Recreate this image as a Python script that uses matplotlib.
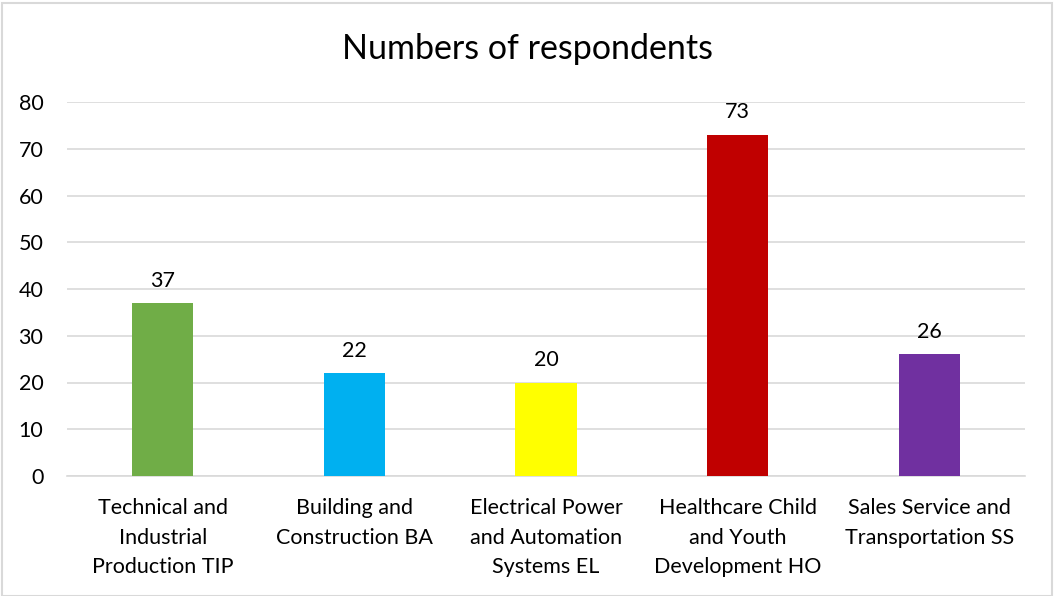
import matplotlib
matplotlib.use("Agg")
import matplotlib.pyplot as plt
from matplotlib.patches import Rectangle

categories = ["Technical and\nIndustrial\nProduction TIP",
              "Building and\nConstruction BA",
              "Electrical Power\nand Automation\nSystems EL",
              "Healthcare Child\nand Youth\nDevelopment HO",
              "Sales Service and\nTransportation SS"]
values = [37, 22, 20, 73, 26]
colors = ["#70AD47", "#00B0F0", "#FFFF00", "#C00000", "#7030A0"]
yticks = [0, 10, 20, 30, 40, 50, 60, 70, 80]
title = "Numbers of respondents"

plt.rcParams['font.family'] = ['Lato', 'DejaVu Sans']

W, H = 1055, 596
fig = plt.figure(figsize=(W/100, H/100), dpi=100)
ax = fig.add_axes([67/W, 1-476/H, (1025-67)/W, (476-102)/H])

x = list(range(len(categories)))
bars = ax.bar(x, values, width=0.32, color=colors, zorder=3)
ax.set_xlim(-0.5, len(categories)-0.5)
ax.set_ylim(0, 80)
ax.set_yticks(yticks)
ax.yaxis.grid(True, color="#D9D9D9", linewidth=1.2, zorder=0)
for s in ax.spines.values():
    s.set_visible(False)
ax.spines['bottom'].set_visible(True)
ax.spines['bottom'].set_color("#D9D9D9")
ax.spines['bottom'].set_linewidth(1.2)
ax.tick_params(axis='both', length=0, labelsize=15.5, colors="black")
ax.tick_params(axis='y', pad=17)
ax.tick_params(axis='x', pad=16)
ax.set_xticks(x)
ax.set_xticklabels(categories, linespacing=1.6)
for xi, v in zip(x, values):
    ax.annotate(str(v), (xi, v), xytext=(0, 9), textcoords="offset points",
                ha="center", va="bottom", fontsize=15.5)

fig.text(528/W, 1-49/H, title, ha="center", va="center", fontsize=24.5)
fig.patches.append(Rectangle((2/W, 0), 1050/W, 1-3/H, transform=fig.transFigure,
                             fill=False, edgecolor="#D9D9D9", linewidth=1.5))

fig.savefig("out.png", dpi=100)
